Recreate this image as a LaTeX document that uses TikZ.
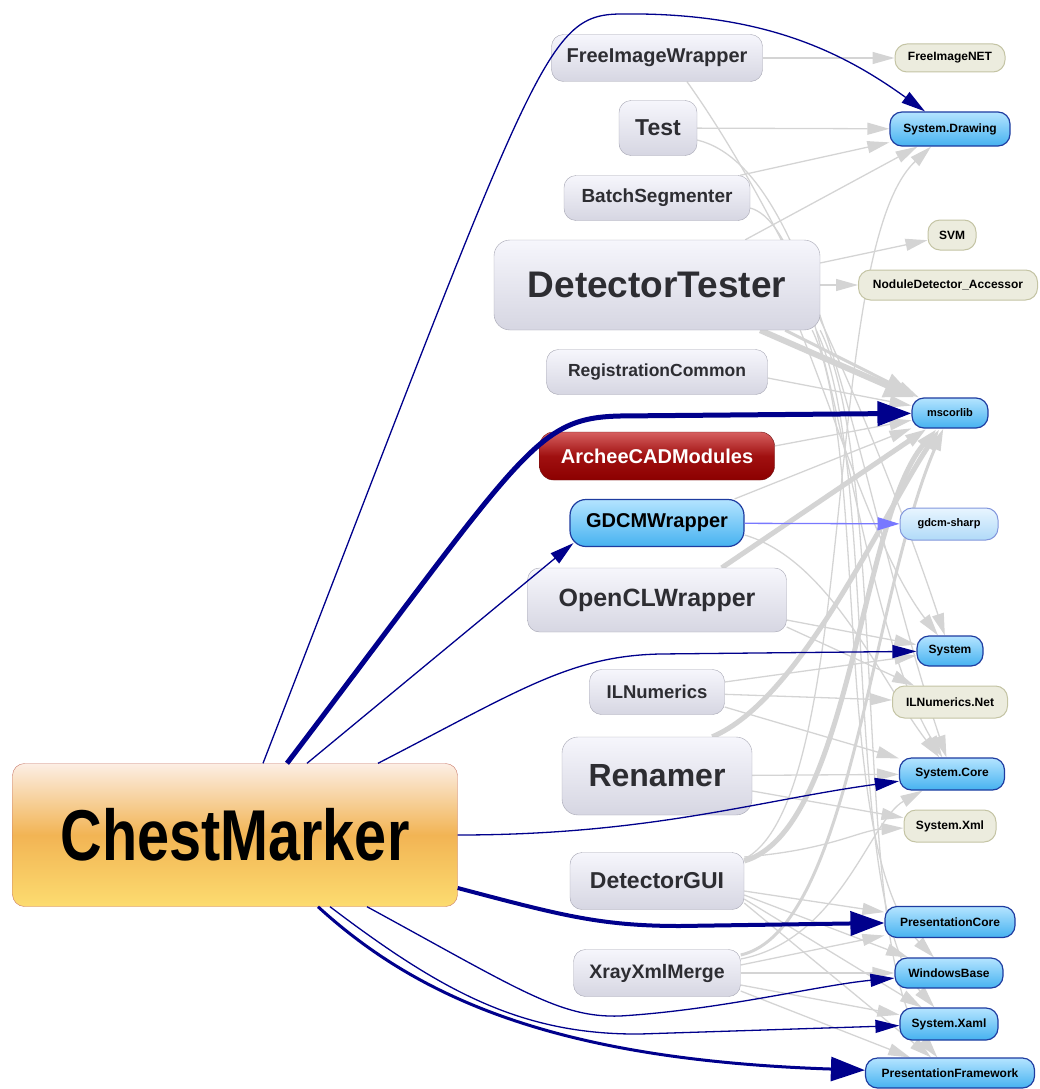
\documentclass[tikz,border=0pt]{standalone}
\usepackage{fontspec}
\setmainfont{Liberation Sans}
\newfontfamily\rootfont[FakeStretch=0.8]{Liberation Sans}
\usetikzlibrary{arrows.meta}

\pgfdeclarelayer{background}
\pgfsetlayers{background,main}

\definecolor{rootline}{RGB}{200,120,104}
\definecolor{roottop}{RGB}{252,238,228}
\definecolor{rootmid}{RGB}{242,180,84}
\definecolor{rootbot}{RGB}{252,220,112}
\definecolor{modline}{RGB}{165,165,178}
\definecolor{modtop}{RGB}{246,246,252}
\definecolor{modbot}{RGB}{214,214,226}
\definecolor{modtext}{RGB}{45,45,50}
\definecolor{redtop}{RGB}{214,96,96}
\definecolor{redmid}{RGB}{160,16,16}
\definecolor{redbot}{RGB}{140,0,0}
\definecolor{redline}{RGB}{110,20,20}
\definecolor{systop}{RGB}{180,228,255}
\definecolor{sysbot}{RGB}{70,178,240}
\definecolor{sysline}{RGB}{30,60,160}
\definecolor{paletop}{RGB}{232,245,255}
\definecolor{palebot}{RGB}{176,218,248}
\definecolor{paleline}{RGB}{130,150,220}
\definecolor{extfill}{RGB}{236,236,222}
\definecolor{extline}{RGB}{196,196,164}
\definecolor{depblue}{RGB}{0,0,140}
\definecolor{lightdep}{RGB}{120,120,255}
\definecolor{usegray}{RGB}{212,212,212}

\begin{document}
\begin{tikzpicture}[
  x=1pt, y=-1pt,
  box/.style 2 args={minimum width=#1pt, minimum height=#2pt},
  fs/.style={font=\bfseries\fontsize{#1}{#1}\selectfont},
  root/.style={rectangle, draw=rootline, rounded corners=12pt, top color=roottop, bottom color=rootbot, middle color=rootmid, minimum width=445pt, minimum height=143pt, inner sep=0pt, font=\rootfont\bfseries\fontsize{72}{80}\selectfont},
  mod/.style={rectangle, draw=modline, rounded corners=12pt, top color=modtop, bottom color=modbot, text=modtext, inner sep=0pt},
  red/.style={rectangle, draw=redline, rounded corners=14pt, top color=redtop, bottom color=redbot, middle color=redmid, text=white, inner sep=0pt},
  lib/.style={rectangle, draw=sysline, line width=1.2pt, rounded corners=12pt, top color=systop, bottom color=sysbot, inner sep=0pt, fs=12},
  pale/.style={rectangle, draw=paleline, line width=1pt, rounded corners=12pt, top color=paletop, bottom color=palebot, inner sep=0pt, fs=11},
  ext/.style={rectangle, draw=extline, line width=1pt, rounded corners=12pt, fill=extfill, inner sep=0pt, fs=12},
  dep/.style={draw=depblue, line width=1.3pt, -{Triangle[length=24pt,width=13pt]}},
  bigdep/.style={draw=depblue, line width=5pt, -{Triangle[length=34pt,width=24pt]}},
  lightarrow/.style={draw=lightdep, line width=1.3pt, -{Triangle[length=22pt,width=13pt]}},
  use/.style={draw=usegray, line width=1.3pt, -{Triangle[length=22pt,width=12pt]}},
  biguse/.style={draw=usegray, line width=6pt, -{Triangle[length=30pt,width=24pt]}}
]
\useasboundingbox (0,0) rectangle (1039,1089);

% ------------------------------------------------------------
% Application
% ------------------------------------------------------------

\node[root] (cm) at (235,835) {ChestMarker};

% ------------------------------------------------------------
% Own assemblies
% ------------------------------------------------------------

\node[mod, box={211}{47}, fs=20] (fiw) at (657,58) {FreeImageWrapper};
\node[mod, box={78}{55}, fs=23] (test) at (658,128) {Test};
\node[mod, box={186}{45}, fs=19] (bseg) at (657,198) {BatchSegmenter};
\node[mod, box={326}{90}, fs=37, rounded corners=16pt] (dtt) at (657,285) {DetectorTester};
\node[mod, box={221}{45}, fs=17.5] (regc) at (657,372) {RegistrationCommon};
\node[red, box={235}{48}, fs=20] (arch) at (657,456) {ArcheeCADModules};
\node[lib, box={174}{47}, fs=20, rounded corners=16pt] (gdw) at (657,523) {GDCMWrapper};
\node[mod, box={259}{64}, fs=25] (ocl) at (657,600) {OpenCLWrapper};
\node[mod, box={135}{45}, fs=18.5] (iln) at (657,692) {ILNumerics};
\node[mod, box={190}{78}, fs=32, rounded corners=16pt] (ren) at (657,776) {Renamer};
\node[mod, box={174}{57}, fs=23] (dgui) at (657,881) {DetectorGUI};
\node[mod, box={167}{47}, fs=19.5] (xxm) at (657,973) {XrayXmlMerge};

% ------------------------------------------------------------
% Referenced libraries
% ------------------------------------------------------------

\node[ext, box={110}{28}] (finet) at (950,58) {FreeImageNET};
\node[lib, box={120}{34}] (sdraw) at (950,129) {System.Drawing};
\node[ext, box={48}{30}] (svm) at (952,235) {SVM};
\node[ext, box={179}{30}] (nda) at (948,285) {NoduleDetector\_Accessor};
\node[lib, box={76}{30}, fs=11] (msc) at (950,413) {mscorlib};
\node[pale, box={98}{32}] (gsh) at (949,524) {gdcm-sharp};
\node[lib, box={66}{30}] (sys) at (950,651) {System};
\node[ext, box={115}{32}] (ilnet) at (950,702) {ILNumerics.Net};
\node[lib, box={105}{32}] (scor) at (952,774) {System.Core};
\node[ext, box={92}{32}] (sxml) at (950,826) {System.Xml};
\node[lib, box={130}{31}] (pcore) at (950,922) {PresentationCore};
\node[lib, box={108}{30}] (wbase) at (949,973) {WindowsBase};
\node[lib, box={98}{32}] (sxaml) at (949,1024) {System.Xaml};
\node[lib, box={169}{30}] (pfw) at (950,1073) {PresentationFramework};

% ------------------------------------------------------------
% References of the other assemblies
% ------------------------------------------------------------

\begin{pgfonlayer}{background}
\draw[use] (fiw) -- (finet);
\draw[use] ([xshift=30pt]fiw.south) .. controls (800,240) and (900,500) .. (sys);

\draw[use] (test) -- (sdraw);
\draw[use] ([yshift=-12pt]test.east) .. controls (820,170) and (860,500) .. (scor);

\draw[use] ([xshift=-10pt]bseg.north east) -- (sdraw);
\draw[use] ([yshift=-10pt]bseg.east) .. controls (830,230) and (850,600) .. (scor);

\draw[use] ([xshift=-75pt]dtt.north east) -- (sdraw);
\draw[use] ([yshift=22pt]dtt.east) -- (svm);
\draw[use] (dtt) -- (nda);
\draw[biguse] ([xshift=-60pt]dtt.south east) -- (msc);
\draw[use, line width=3pt] ([xshift=-35pt]dtt.south east) -- (msc);
\draw[use] ([xshift=-20pt]dtt.south east) .. controls (840,430) and (880,560) .. (sys);
\draw[use] ([xshift=-8pt]dtt.south east) .. controls (870,450) and (830,850) .. (wbase);
\draw[use] ([xshift=-4pt]dtt.south east) .. controls (880,460) and (840,900) .. (sxaml);
\draw[use] (dtt.south east) .. controls (890,470) and (850,950) .. (pfw);

\draw[use] ([yshift=-6pt]regc.east) -- (msc);
\draw[use] ([yshift=10pt]arch.east) -- (msc);

\draw[use] ([xshift=-10pt]gdw.north east) -- (msc);
\draw[use] ([yshift=-12pt]gdw.east) .. controls (830,560) and (880,680) .. (scor);

\draw[use, line width=5pt] ([xshift=-65pt]ocl.north east) -- (msc);
\draw[use] ([yshift=-20pt]ocl.east) -- (sys);
\draw[use] ([yshift=-27pt]ocl.east) -- (ilnet);

\draw[use] ([yshift=10pt]iln.east) -- (sys);
\draw[use] (iln) -- (ilnet);
\draw[use] ([yshift=-15pt]iln.east) -- (scor);

\draw[use, line width=5pt] ([xshift=-40pt]ren.north east) .. controls (800,700) and (880,520) .. (msc);
\draw[use] (ren) -- (scor);
\draw[use] ([yshift=-15pt]ren.east) -- (sxml);

\draw[use, line width=5pt] ([yshift=20pt]dgui.east) .. controls (850,830) and (860,520) .. (msc);
\draw[use] ([yshift=22pt]dgui.east) .. controls (860,800) and (820,250) .. (sdraw);
\draw[use] ([yshift=24pt]dgui.east) .. controls (830,850) and (860,830) .. (sxml);
\draw[use] ([yshift=-10pt]dgui.east) -- (pcore);
\draw[use] ([yshift=-14pt]dgui.east) -- (wbase);
\draw[use] ([yshift=-18pt]dgui.east) -- (sxaml);
\draw[use] ([yshift=-22pt]dgui.east) -- (pfw);

\draw[use, line width=3pt] ([yshift=18pt]xxm.east) .. controls (850,930) and (870,600) .. (msc);
\draw[use] ([yshift=14pt]xxm.east) .. controls (840,940) and (870,820) .. (scor);
\draw[use] ([yshift=8pt]xxm.east) -- (pcore);
\draw[use] (xxm) -- (wbase);
\draw[use] ([yshift=-12pt]xxm.east) -- (sxaml);
\draw[use] ([yshift=-18pt]xxm.east) -- (pfw);
\end{pgfonlayer}

\draw[lightarrow] (gdw) -- (gsh);

% ------------------------------------------------------------
% References of ChestMarker
% ------------------------------------------------------------

\draw[dep] ([xshift=28pt]cm.north) .. controls (535,60) and (545,15) .. (620,14) .. controls (760,12) and (840,50) .. ([xshift=-25pt]sdraw.north);
\draw[bigdep] ([xshift=52pt]cm.north) .. controls (525,450) and (535,418) .. (620,416) -- (msc);
\draw[dep] ([xshift=72pt]cm.north) -- ([shift={(4pt,4pt)}]gdw.south west);
\draw[dep] ([xshift=143pt]cm.north) .. controls (520,690) and (570,656) .. (660,654) -- (sys);
\draw[dep] (cm.east) .. controls (650,835) and (760,800) .. (scor);
\draw[bigdep, line width=4pt] ([yshift=-53pt]cm.east) .. controls (560,915) and (600,926) .. (680,926) -- (pcore);
\draw[dep] ([xshift=132pt]cm.south) .. controls (520,990) and (560,1018) .. (620,1016) .. controls (720,1010) and (820,985) .. (wbase);
\draw[dep] ([xshift=95pt]cm.south) .. controls (440,990) and (520,1035) .. (640,1034) -- (sxaml);
\draw[bigdep, line width=3pt] ([xshift=83pt]cm.south) .. controls (420,1000) and (560,1060) .. (pfw);

\end{tikzpicture}
\end{document}
